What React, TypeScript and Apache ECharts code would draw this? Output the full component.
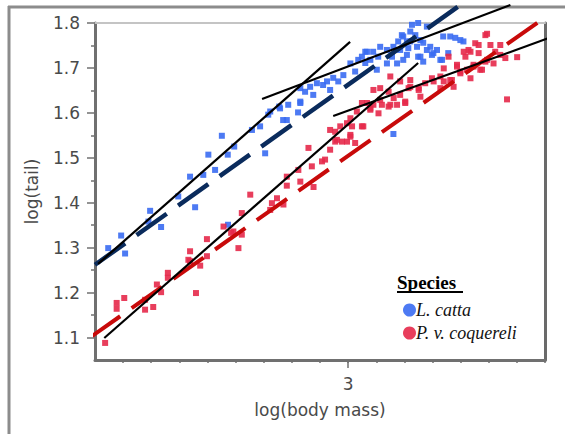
import React, { useEffect, useRef } from "react";
import * as echarts from "echarts";

// ---- axes ----
const xMin = 2.1;
const xMax = 3.7;
const yMin = 1.05;
const yMax = 1.8;
const yMajorTicks = [1.1, 1.2, 1.3, 1.4, 1.5, 1.6, 1.7, 1.8];
const yMinorTicks = [1.15, 1.25, 1.35, 1.45, 1.55, 1.65, 1.75];
const xMinorTicks = [2.2, 2.3, 2.4, 2.5, 2.6, 2.7, 2.8, 2.9, 3.0, 3.1, 3.2, 3.3, 3.4, 3.5, 3.6, 3.7];
const xMajorTicks = [3];
const xAxisTitle = "log(body mass)";
const yAxisTitle = "log(tail)";
const legendTitle = "Species";
const speciesNames = ["L. catta", "P. v. coquereli"];

// ---- data: [log(body mass), log(tail)] ----
const lemurCatta = [
  [2.551, 1.549], [2.595, 1.525], [2.503, 1.507], [2.572, 1.507], [2.527, 1.473], [2.438, 1.458],
  [2.485, 1.462], [2.396, 1.414], [2.456, 1.39], [2.296, 1.382], [2.29, 1.358], [2.335, 1.346],
  [2.193, 1.327], [2.147, 1.299], [2.207, 1.287], [2.573, 1.351], [2.705, 1.51], [2.83, 1.622],
  [2.822, 1.601], [2.769, 1.584], [2.755, 1.614], [2.716, 1.596], [2.687, 1.57], [2.658, 1.562],
  [3.161, 1.553], [3.067, 1.736], [3.036, 1.718], [3.008, 1.71], [3.025, 1.692], [2.983, 1.684],
  [2.965, 1.67], [2.947, 1.678], [2.925, 1.67], [2.889, 1.666], [2.865, 1.658], [2.83, 1.655],
  [2.847, 1.647], [2.876, 1.64], [2.936, 1.651], [2.83, 1.625], [2.787, 1.618], [2.758, 1.61],
  [2.723, 1.603], [2.782, 1.584], [2.911, 1.662], [3.061, 1.711], [3.049, 1.725],
  [3.227, 1.796], [3.249, 1.8], [3.221, 1.781], [3.196, 1.77], [3.178, 1.759], [3.209, 1.759],
  [3.239, 1.773], [3.161, 1.747], [3.185, 1.74], [3.214, 1.744], [3.245, 1.747], [3.267, 1.756],
  [3.28, 1.74], [3.298, 1.729], [3.316, 1.74], [3.328, 1.718], [3.338, 1.77], [3.381, 1.767],
  [3.41, 1.759], [3.356, 1.733], [3.138, 1.74], [3.114, 1.747], [3.089, 1.736], [3.061, 1.736],
  [3.107, 1.725], [3.079, 1.718], [3.102, 1.696], [3.156, 1.725], [3.196, 1.718], [3.174, 1.71],
  [3.249, 1.725], [3.267, 1.714], [3.138, 1.71], [3.28, 1.792], [3.363, 1.77], [3.399, 1.762],
  [3.221, 1.759], [3.257, 1.762], [3.292, 1.747], [3.303, 1.733], [3.334, 1.718], [3.209, 1.729],
  [3.257, 1.725], [3.191, 1.773],
];

const propithecus = [
  [2.136, 1.088], [2.204, 1.188], [2.177, 1.177], [2.177, 1.164], [2.278, 1.184], [2.278, 1.162],
  [2.307, 1.168], [2.32, 1.218], [2.335, 1.201], [2.359, 1.244], [2.359, 1.233], [2.459, 1.199],
  [2.438, 1.292], [2.438, 1.27], [2.474, 1.26], [2.498, 1.281], [2.498, 1.319], [2.61, 1.299],
  [2.592, 1.336], [2.622, 1.329], [2.652, 1.418], [2.622, 1.377], [2.557, 1.347], [2.584, 1.333],
  [2.432, 1.273], [2.747, 1.41], [2.729, 1.399], [2.77, 1.396], [2.723, 1.384], [2.782, 1.458],
  [2.782, 1.438], [2.83, 1.447], [2.823, 1.473], [2.877, 1.435], [2.871, 1.481], [2.907, 1.492],
  [2.918, 1.496], [2.859, 1.522], [2.936, 1.518], [2.954, 1.536], [2.978, 1.536], [2.954, 1.558],
  [2.972, 1.57], [3.008, 1.551], [3.025, 1.533], [2.996, 1.536], [3.014, 1.57], [3.049, 1.57],
  [3.008, 1.588], [3.031, 1.603], [3.079, 1.61], [3.108, 1.599], [3.12, 1.618], [3.15, 1.618],
  [3.174, 1.618], [3.203, 1.622], [3.067, 1.622], [3.15, 1.681], [3.114, 1.655], [3.09, 1.651],
  [3.144, 1.647], [3.185, 1.67], [3.221, 1.673], [3.215, 1.655], [3.251, 1.655], [3.274, 1.666],
  [3.257, 1.636], [3.185, 1.64], [3.114, 1.629], [3.144, 1.614], [3.079, 1.607], [3.09, 1.618],
  [3.049, 1.622], [3.162, 1.633], [3.298, 1.677], [3.328, 1.681], [3.34, 1.699], [3.357, 1.725],
  [3.387, 1.707], [3.417, 1.725], [3.428, 1.74], [3.452, 1.755], [3.488, 1.773], [3.464, 1.733],
  [3.494, 1.718], [3.446, 1.707], [3.399, 1.692], [3.363, 1.673], [3.375, 1.658], [3.423, 1.696],
  [3.47, 1.696], [3.494, 1.776], [3.464, 1.751], [3.435, 1.736], [3.411, 1.736], [3.506, 1.751],
  [3.541, 1.751], [3.523, 1.736], [3.541, 1.729], [3.559, 1.722], [3.601, 1.724], [3.488, 1.714],
  [3.517, 1.71], [3.476, 1.696], [3.446, 1.703], [3.387, 1.703], [3.399, 1.688], [3.435, 1.677],
  [3.369, 1.673], [3.34, 1.67], [3.304, 1.67], [3.565, 1.63], [3.203, 1.625], [3.221, 1.658],
  [3.251, 1.651], [3.328, 1.655], [2.936, 1.562], [2.996, 1.577], [3.054, 1.57], [3.008, 1.547],
  [2.96, 1.54],
];

// ---- fitted lines ----
const cattaFit = [[2.1, 1.262], [3.399, 1.84]];
const coquereliFit = [[2.082, 1.1], [3.726, 1.824]];
const cattaJuvenileFit = [[2.111, 1.264], [3.007, 1.758]];
const cattaAdultFit = [[2.694, 1.631], [3.577, 1.84]];
const coquereliJuvenileFit = [[2.133, 1.099], [3.249, 1.711]];
const coquereliAdultFit = [[2.947, 1.593], [3.773, 1.78]];

const BLUE = "#3a6cf2";
const RED = "#e5294a";
const NAVY = "#0a2b5c";
const DARKRED = "#c80a0a";
const AXIS = "#707070";
const LABEL = "#4a4a4a";
const SANS = "DejaVu Sans";
const SERIF = "Liberation Serif";

export default function App() {
  const ref = useRef<HTMLDivElement>(null);
  useEffect(() => {
    if (!ref.current) return;
    const chart = echarts.init(ref.current, null, { renderer: "svg" });
    const fmt = (v: number) => v.toFixed(1);
    const near = (a: number, b: number) => Math.abs(a - b) < 1e-6;
    const fitLine = (data: number[][], color: string, width: number, dashed: boolean) => ({
      type: "line",
      data,
      xAxisIndex: 0,
      yAxisIndex: 0,
      symbol: "none",
      clip: false,
      silent: true,
      z: 5,
      lineStyle: { color, width, type: dashed ? [37, 14] : "solid", cap: "butt" },
    });
    chart.setOption({
      animation: false,
      backgroundColor: "#ffffff",
      grid: { left: 95, right: 20, top: 23, bottom: 74, containLabel: false },
      xAxis: [
        {
          type: "value",
          position: "bottom",
          min: xMin,
          max: xMax,
          name: xAxisTitle,
          nameLocation: "middle",
          nameGap: 41,
          nameTextStyle: { color: LABEL, fontSize: 17, fontFamily: SANS },
          axisLine: { show: true, onZero: false, lineStyle: { color: AXIS, width: 3 } },
          axisTick: { show: true, length: 3, customValues: xMinorTicks, lineStyle: { color: AXIS, width: 1.5 } },
          axisLabel: {
            show: true,
            margin: 15,
            customValues: xMajorTicks,
            color: LABEL,
            fontSize: 17,
            fontFamily: SANS,
            formatter: (v: number) => (xMajorTicks.some((t) => near(t, v)) ? String(Math.round(v)) : ""),
          },
          splitLine: { show: false },
        },
        {
          type: "value",
          position: "bottom",
          min: xMin,
          max: xMax,
          axisLine: { show: false, onZero: false },
          axisTick: { show: true, length: 8, customValues: xMajorTicks, lineStyle: { color: AXIS, width: 1.5 } },
          axisLabel: { show: false },
          splitLine: { show: false },
        },
        {
          type: "value",
          position: "top",
          min: xMin,
          max: xMax,
          axisLine: { show: true, onZero: false, lineStyle: { color: "#c4c4c4", width: 2 } },
          axisTick: { show: false },
          axisLabel: { show: false },
          splitLine: { show: false },
        },
      ],
      yAxis: [
        {
          type: "value",
          position: "left",
          min: yMin,
          max: yMax,
          name: yAxisTitle,
          nameLocation: "middle",
          nameRotate: 90,
          nameGap: 55,
          nameTextStyle: { color: LABEL, fontSize: 17, fontFamily: SANS },
          axisLine: { show: true, onZero: false, lineStyle: { color: AXIS, width: 3 } },
          axisTick: { show: true, length: 4, customValues: yMinorTicks, lineStyle: { color: AXIS, width: 1.5 } },
          axisLabel: {
            show: true,
            margin: 15,
            customValues: yMajorTicks,
            color: LABEL,
            fontSize: 17,
            fontFamily: SANS,
            formatter: fmt,
          },
          splitLine: { show: false },
        },
        {
          type: "value",
          position: "left",
          min: yMin,
          max: yMax,
          axisLine: { show: false, onZero: false },
          axisTick: { show: true, length: 8, customValues: yMajorTicks, lineStyle: { color: AXIS, width: 1.5 } },
          axisLabel: { show: false },
          splitLine: { show: false },
        },
        {
          type: "value",
          position: "right",
          min: yMin,
          max: yMax,
          axisLine: { show: true, onZero: false, lineStyle: { color: "#6a6a6a", width: 3 } },
          axisTick: { show: false },
          axisLabel: { show: false },
          splitLine: { show: false },
        },
      ],
      legend: {
        show: true,
        data: speciesNames,
        orient: "vertical",
        left: 398,
        top: 296,
        itemWidth: 13,
        itemHeight: 13,
        itemGap: 5,
        icon: "circle",
        textStyle: { fontFamily: SERIF, fontStyle: "italic", fontSize: 18, color: "#111", padding: [0, 0, 0, -5] },
      },
      graphic: [
        { type: "line", shape: { x1: 8, y1: 7, x2: 565, y2: 7 }, style: { stroke: "#8c8c8c", lineWidth: 3 }, silent: true },
        { type: "line", shape: { x1: 9, y1: 6, x2: 9, y2: 434 }, style: { stroke: "#8c8c8c", lineWidth: 3 }, silent: true },
        {
          type: "text",
          left: 397,
          top: 273,
          style: { text: legendTitle, font: `bold 19px "${SERIF}"`, fill: "#000" },
          silent: true,
        },
        { type: "line", shape: { x1: 397, y1: 292, x2: 463, y2: 292 }, style: { stroke: "#000", lineWidth: 2 }, silent: true },
      ],
      series: [
        {
          name: speciesNames[0],
          type: "scatter",
          data: lemurCatta,
          xAxisIndex: 0,
          yAxisIndex: 0,
          symbol: "rect",
          symbolSize: 6,
          itemStyle: { color: BLUE, opacity: 0.9 },
          z: 3,
        },
        {
          name: speciesNames[1],
          type: "scatter",
          data: propithecus,
          xAxisIndex: 0,
          yAxisIndex: 0,
          symbol: "rect",
          symbolSize: 6,
          itemStyle: { color: RED, opacity: 0.9 },
          z: 3,
        },
        fitLine(cattaFit, NAVY, 4.5, true),
        fitLine(coquereliFit, DARKRED, 4, true),
        fitLine(cattaJuvenileFit, "#000", 2.2, false),
        fitLine(cattaAdultFit, "#000", 2.2, false),
        fitLine(coquereliJuvenileFit, "#000", 2.2, false),
        fitLine(coquereliAdultFit, "#000", 2.2, false),
      ],
    });
    return () => chart.dispose();
  }, []);
  return (
    <div
      ref={ref}
      style={{ position: "fixed", left: 0, top: 0, width: 565, height: 434, background: "#fff" }}
    />
  );
}
